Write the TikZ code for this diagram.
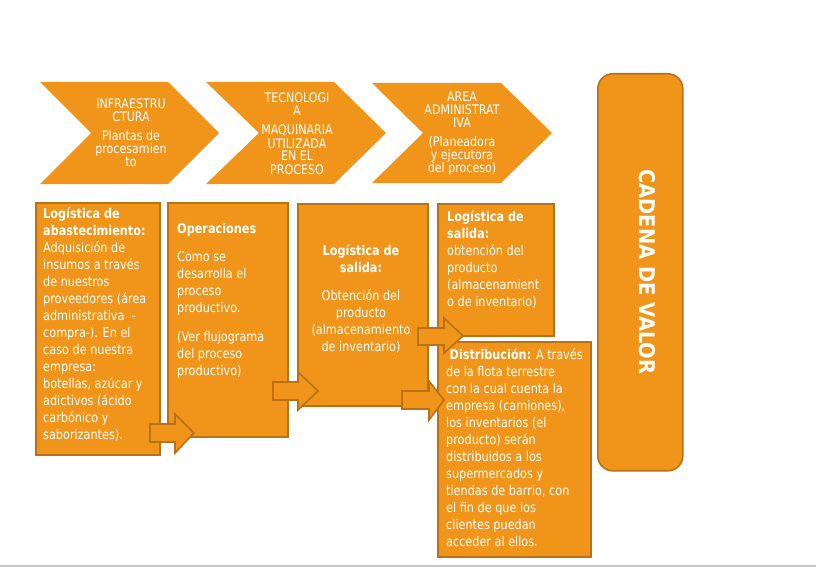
\documentclass[tikz,border=0pt]{standalone}
\usepackage{fontspec}
\setmainfont{DejaVu Sans}[FakeStretch=0.84]
\newfontfamily\titlefont{DejaVu Sans}[FakeStretch=0.9]
\definecolor{orangefill}{RGB}{240,149,26}
\definecolor{orangeline}{RGB}{185,112,22}
\newcommand{\bodyfont}{\fontsize{13.4}{17}\selectfont}
\newcommand{\chevfont}{\fontsize{13.2}{13}\selectfont}
\begin{document}
\begin{tikzpicture}[x=1pt,y=-1pt,
  chevron/.style={fill=orangefill, draw=none},
  boxnode/.style={draw=orangeline, fill=orangefill, line width=1.6pt, anchor=north west, inner sep=0pt},
  blockarrow/.style={draw=orangeline, fill=orangefill, line width=1.6pt, line join=miter},
  txtl/.style={inner sep=0pt, text=white, anchor=base west},
  txtc/.style={inner sep=0pt, text=white, anchor=base}]
\useasboundingbox (0,0) rectangle (816,567);
% bottom rule
\coordinate (bl) at (0,566);
\coordinate (br) at (816,566);
\draw[black!22, line width=1.5pt] (bl) -- (br);

% chevrons
\fill[chevron] (40,82) -- (168,82) -- (219,133) -- (168,184) -- (40,184) -- (91,133) -- cycle;
\fill[chevron] (206,82) -- (334,82) -- (386,133) -- (334,184) -- (206,184) -- (259,133) -- cycle;
\fill[chevron] (372,83) -- (501,83) -- (552,133) -- (501,183) -- (372,183) -- (423,133) -- cycle;

\node[txtc] (c1) at (131,109) {\parbox[t]{120pt}{\chevfont\centering INFRAESTRU\\CTURA\\[6pt]Plantas de\\procesamien\\to}};
\node[txtc] (c2) at (297,103) {\parbox[t]{120pt}{\chevfont\centering TECNOLOGI\\A\\[6pt]MAQUINARIA\\UTILIZADA\\EN EL\\PROCESO}};
\node[txtc] (c3) at (462,102) {\parbox[t]{120pt}{\chevfont\centering AREA\\ADMINISTRAT\\IVA\\[6pt](Planeadora\\y ejecutora\\del proceso)}};

% value chain box
\node[draw=orangeline, fill=orangefill, line width=1.6pt, rounded corners=15pt,
      minimum width=85pt, minimum height=397pt, anchor=north west, inner sep=0pt] (cadena) at (597,73) {};
\node[rotate=-90, text=white, inner sep=0pt, font=\titlefont\bfseries\fontsize{21.6}{24}\selectfont] (cv) at (647,272) {CADENA DE VALOR};

% boxes
\node[boxnode, minimum width=124pt, minimum height=252pt] (A) at (35,202) {};
\node[boxnode, minimum width=120pt, minimum height=234pt] (B) at (167,202) {};
\node[boxnode, minimum width=130pt, minimum height=202pt] (C) at (297,203) {};
\node[boxnode, minimum width=116pt, minimum height=132pt] (D) at (437,203) {};
\node[boxnode, minimum width=153pt, minimum height=215pt] (E) at (437,341) {};

% box texts
\node[txtl] (tA) at (43,218) {\parbox[t]{200pt}{\bodyfont\raggedright
\textbf{Logística de}\\\textbf{abastecimiento:}\\Adquisición de\\insumos a través\\de nuestros\\proveedores (área\\administrativa\ \ -\\compra-). En el\\caso de nuestra\\empresa:\\botellas, azúcar y\\adictivos (ácido\\carbónico y\\saborizantes).}};
\node[txtl] (tB) at (177,233) {\parbox[t]{200pt}{\bodyfont\raggedright
\textbf{Operaciones}\\[11pt]Como se\\desarrolla el\\proceso\\productivo.\\[12pt](Ver flujograma\\del proceso\\productivo)}};
\node[txtc] (tC) at (361,255) {\parbox[t]{150pt}{\bodyfont\centering
\textbf{Logística de}\\\textbf{salida:}\\[11pt]Obtención del\\producto\\(almacenamiento\\de inventario)}};
\node[txtl] (tD) at (447,221) {\parbox[t]{200pt}{\bodyfont\raggedright
\textbf{Logística de}\\\textbf{salida:}\\obtención del\\producto\\(almacenamient\\o de inventario)}};
\node[txtl] (tE) at (446,359) {\parbox[t]{200pt}{\bodyfont\raggedright
\hspace*{3.5pt}\textbf{Distribución:} A través\\de la flota terrestre\\con la cual cuenta la\\empresa (camiones),\\los inventarios (el\\producto) serán\\distribuidos a los\\supermercados y\\tiendas de barrio, con\\el fin de que los\\clientes puedan\\acceder al ellos.}};

% block arrows
\draw[blockarrow] (150,424) -- (175,424) -- (175,414) -- (194,433) -- (175,453) -- (175,442) -- (150,442) -- cycle;
\draw[blockarrow] (273,382) -- (298,382) -- (298,372) -- (318,391) -- (298,410) -- (298,400) -- (273,400) -- cycle;
\draw[blockarrow] (418,328) -- (444,328) -- (444,318) -- (463,336) -- (444,353) -- (444,345) -- (418,345) -- cycle;
\draw[blockarrow] (402,391) -- (429,391) -- (429,381) -- (444,400) -- (429,420) -- (429,409) -- (402,409) -- cycle;
\end{tikzpicture}
\end{document}
